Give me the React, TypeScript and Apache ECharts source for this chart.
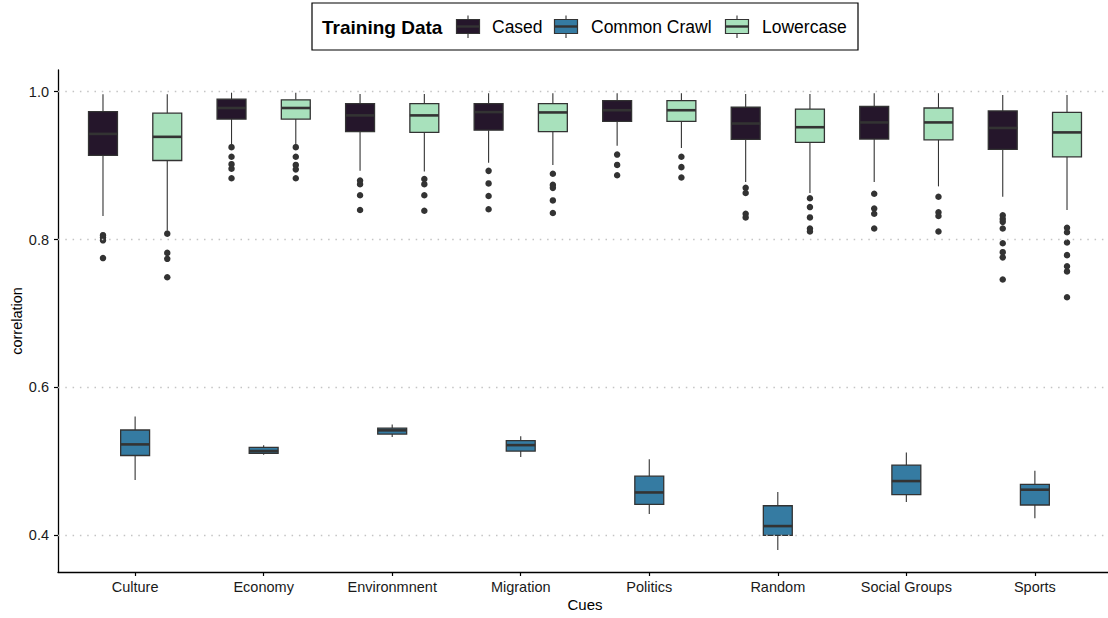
import { useEffect, useRef } from "react";
import * as echarts from "echarts";

// Cue categories along the x axis
const CUES = [
  "Culture",
  "Economy",
  "Environmnent",
  "Migration",
  "Politics",
  "Random",
  "Social Groups",
  "Sports",
];

const Y_TICKS = [0.4, 0.6, 0.8, 1.0];

// Five-number summaries per cue: [lower whisker, Q1, median, Q3, upper whisker]
const CASED_STATS = [
  [0.832, 0.914, 0.943, 0.973, 0.9965],
  [0.928, 0.963, 0.978, 0.99, 0.9987],
  [0.893, 0.946, 0.968, 0.984, 0.997],
  [0.904, 0.948, 0.9725, 0.984, 0.998],
  [0.927, 0.96, 0.975, 0.988, 0.998],
  [0.878, 0.9355, 0.957, 0.979, 0.997],
  [0.878, 0.936, 0.9585, 0.98, 0.998],
  [0.858, 0.922, 0.951, 0.974, 0.9955],
];

const COMMON_CRAWL_STATS = [
  [0.475, 0.508, 0.523, 0.5425, 0.5606],
  [0.509, 0.511, 0.514, 0.519, 0.522],
  [0.533, 0.537, 0.542, 0.545, 0.55],
  [0.506, 0.514, 0.522, 0.528, 0.534],
  [0.429, 0.442, 0.458, 0.48, 0.503],
  [0.38, 0.4, 0.4125, 0.44, 0.4585],
  [0.445, 0.455, 0.4734, 0.495, 0.512],
  [0.423, 0.441, 0.4617, 0.4688, 0.4874],
];

const LOWERCASE_STATS = [
  [0.812, 0.907, 0.939, 0.971, 0.9965],
  [0.928, 0.963, 0.978, 0.989, 0.9987],
  [0.892, 0.945, 0.968, 0.984, 0.997],
  [0.901, 0.946, 0.972, 0.984, 0.998],
  [0.924, 0.96, 0.975, 0.988, 0.998],
  [0.863, 0.9314, 0.952, 0.9766, 0.997],
  [0.872, 0.935, 0.9585, 0.978, 0.998],
  [0.84, 0.912, 0.945, 0.972, 0.9955],
];

// Outlying correlations per cue
const CASED_OUTLIERS = [
  [0.806, 0.803, 0.799, 0.775],
  [0.925, 0.912, 0.902, 0.896, 0.883],
  [0.88, 0.875, 0.86, 0.84],
  [0.893, 0.876, 0.859, 0.841],
  [0.915, 0.901, 0.887],
  [0.87, 0.863, 0.835, 0.83],
  [0.862, 0.842, 0.835, 0.815],
  [0.833, 0.828, 0.824, 0.815, 0.795, 0.783, 0.776, 0.746],
];

const COMMON_CRAWL_OUTLIERS = [[], [], [], [], [], [], [], []];

const LOWERCASE_OUTLIERS = [
  [0.808, 0.782, 0.774, 0.749],
  [0.925, 0.912, 0.901, 0.895, 0.883],
  [0.882, 0.875, 0.86, 0.839],
  [0.889, 0.874, 0.87, 0.853, 0.836],
  [0.912, 0.898, 0.884],
  [0.856, 0.844, 0.83, 0.815, 0.811],
  [0.858, 0.837, 0.832, 0.811],
  [0.816, 0.81, 0.796, 0.779, 0.764, 0.757, 0.722],
];

const GROUP_NAMES = ["Cased", "Common Crawl", "Lowercase"];
const GROUP_COLORS = ["#25162b", "#357ba2", "#a8e1bc"];
const GROUP_STATS = [CASED_STATS, COMMON_CRAWL_STATS, LOWERCASE_STATS];
const GROUP_OUTLIERS = [CASED_OUTLIERS, COMMON_CRAWL_OUTLIERS, LOWERCASE_OUTLIERS];
const GROUP_OFFSETS = [-0.25, 0, 0.25];

const FONT = "'Liberation Sans', Arial, Helvetica, sans-serif";
const INK = "#333333";
const BOX_WIDTH = 0.225;

function boxRenderer(color: string) {
  return (_params: any, api: any) => {
    const x = api.value(0);
    const lo = api.coord([x, api.value(1)]);
    const q1 = api.coord([x, api.value(2)]);
    const md = api.coord([x, api.value(3)]);
    const q3 = api.coord([x, api.value(4)]);
    const hi = api.coord([x, api.value(5)]);
    const w = api.size([BOX_WIDTH, 0])[0];
    const cx = lo[0];
    return {
      type: "group",
      children: [
        {
          type: "line",
          shape: { x1: cx, y1: hi[1], x2: cx, y2: q3[1] },
          style: { stroke: INK, lineWidth: 1.1 },
        },
        {
          type: "line",
          shape: { x1: cx, y1: q1[1], x2: cx, y2: lo[1] },
          style: { stroke: INK, lineWidth: 1.1 },
        },
        {
          type: "rect",
          shape: { x: cx - w / 2, y: q3[1], width: w, height: q1[1] - q3[1] },
          style: { fill: color, stroke: INK, lineWidth: 1.3 },
        },
        {
          type: "line",
          shape: { x1: cx - w / 2, y1: md[1], x2: cx + w / 2, y2: md[1] },
          style: { stroke: INK, lineWidth: 2.6 },
        },
      ],
    };
  };
}

// Legend key: a tiny box-and-whisker glyph
function legendKey(cx: number, color: string) {
  return {
    type: "group",
    children: [
      {
        type: "line",
        shape: { x1: cx, y1: 15.5, x2: cx, y2: 38 },
        style: { stroke: INK, lineWidth: 1.1 },
      },
      {
        type: "rect",
        shape: { x: cx - 11.5, y: 19.5, width: 23, height: 14 },
        style: { fill: color, stroke: INK, lineWidth: 1.2 },
      },
      {
        type: "line",
        shape: { x1: cx - 11.5, y1: 26.5, x2: cx + 11.5, y2: 26.5 },
        style: { stroke: INK, lineWidth: 2.4 },
      },
    ],
  };
}

export default function App() {
  const ref = useRef<HTMLDivElement>(null);

  useEffect(() => {
    if (!ref.current) return;
    const chart = echarts.init(ref.current, undefined, { renderer: "svg" });

    const boxSeries = GROUP_NAMES.map((name, g) => ({
      name,
      type: "custom",
      xAxisIndex: 0,
      yAxisIndex: 0,
      z: 3,
      renderItem: boxRenderer(GROUP_COLORS[g]),
      encode: { x: 0, y: [1, 2, 3, 4, 5] },
      data: GROUP_STATS[g].map((s, i) => [i + GROUP_OFFSETS[g], ...s]),
    }));

    const outlierSeries = GROUP_NAMES.map((name, g) => {
      const pts: number[][] = [];
      GROUP_OUTLIERS[g].forEach((vals, i) =>
        vals.forEach((v) => pts.push([i + GROUP_OFFSETS[g], v]))
      );
      return {
        name: name + " outliers",
        type: "scatter",
        z: 3,
        symbol: "circle",
        symbolSize: 6.5,
        itemStyle: { color: INK, opacity: 1 },
        data: pts,
      };
    });

    // dotted horizontal guides at the major ticks
    const gridGuides = {
      name: "guides",
      type: "scatter",
      z: 1,
      data: [],
      silent: true,
      markLine: {
        silent: true,
        symbol: "none",
        label: { show: false },
        lineStyle: { type: [1.5, 5.8], color: "#c4c4c4", width: 1.3 },
        data: Y_TICKS.map((v) => ({ yAxis: v })),
      },
    };

    const legendItems: any[] = [
      {
        type: "rect",
        shape: { x: 312, y: 3, width: 546, height: 47 },
        style: { fill: "#ffffff", stroke: "#000000", lineWidth: 1.2 },
      },
      {
        type: "text",
        x: 322,
        y: 27,
        style: {
          text: "Training Data",
          font: `bold 19px ${FONT}`,
          fill: "#000000",
          verticalAlign: "middle",
        },
      },
    ];
    const keyX = [468, 566, 737];
    const textX = [492, 591, 762];
    GROUP_NAMES.forEach((name, g) => {
      legendItems.push(legendKey(keyX[g], GROUP_COLORS[g]));
      legendItems.push({
        type: "text",
        x: textX[g],
        y: 27,
        style: {
          text: name,
          font: `17.5px ${FONT}`,
          fill: "#000000",
          verticalAlign: "middle",
        },
      });
    });

    chart.setOption({
      animation: false,
      backgroundColor: "#ffffff",
      textStyle: { fontFamily: FONT },
      grid: {
        left: 58,
        top: 70,
        width: 1054,
        height: 502,
        containLabel: false,
        outerBoundsMode: "none",
      },
      xAxis: {
        type: "value",
        min: -0.6,
        max: 7.6,
        name: "Cues",
        nameLocation: "middle",
        nameGap: 25,
        nameMoveOverlap: false,
        nameTextStyle: { fontSize: 15, color: "#000000", fontFamily: FONT },
        axisLine: { show: true, onZero: false, lineStyle: { color: "#000000", width: 1.3 } },
        axisTick: {
          show: true,
          length: 4,
          customValues: CUES.map((_, i) => i),
          lineStyle: { color: "#000000", width: 1.2 },
        },
        axisLabel: {
          customValues: CUES.map((_, i) => i),
          formatter: (v: number) => CUES[Math.round(v)] ?? "",
          margin: 7,
          fontSize: 14.5,
          color: "#1a1a1a",
          fontFamily: FONT,
        },
        splitLine: { show: false },
      },
      yAxis: {
        type: "value",
        min: 0.3504,
        max: 1.0294,
        name: "correlation",
        nameLocation: "middle",
        nameGap: 34,
        nameMoveOverlap: false,
        nameTextStyle: { fontSize: 14.5, color: "#000000", fontFamily: FONT },
        axisLine: { show: true, onZero: false, lineStyle: { color: "#000000", width: 1.3 } },
        axisTick: {
          show: true,
          length: 4,
          customValues: Y_TICKS,
          lineStyle: { color: "#000000", width: 1.2 },
        },
        axisLabel: {
          customValues: Y_TICKS,
          formatter: (v: number) => v.toFixed(1),
          margin: 9,
          fontSize: 14.5,
          color: "#1a1a1a",
          fontFamily: FONT,
        },
        splitLine: { show: false },
      },
      graphic: legendItems,
      series: [gridGuides, ...boxSeries, ...outlierSeries],
    });

    return () => chart.dispose();
  }, []);

  return (
    <div
      ref={ref}
      style={{ position: "fixed", left: 0, top: 0, width: 1108, height: 618 }}
    />
  );
}
